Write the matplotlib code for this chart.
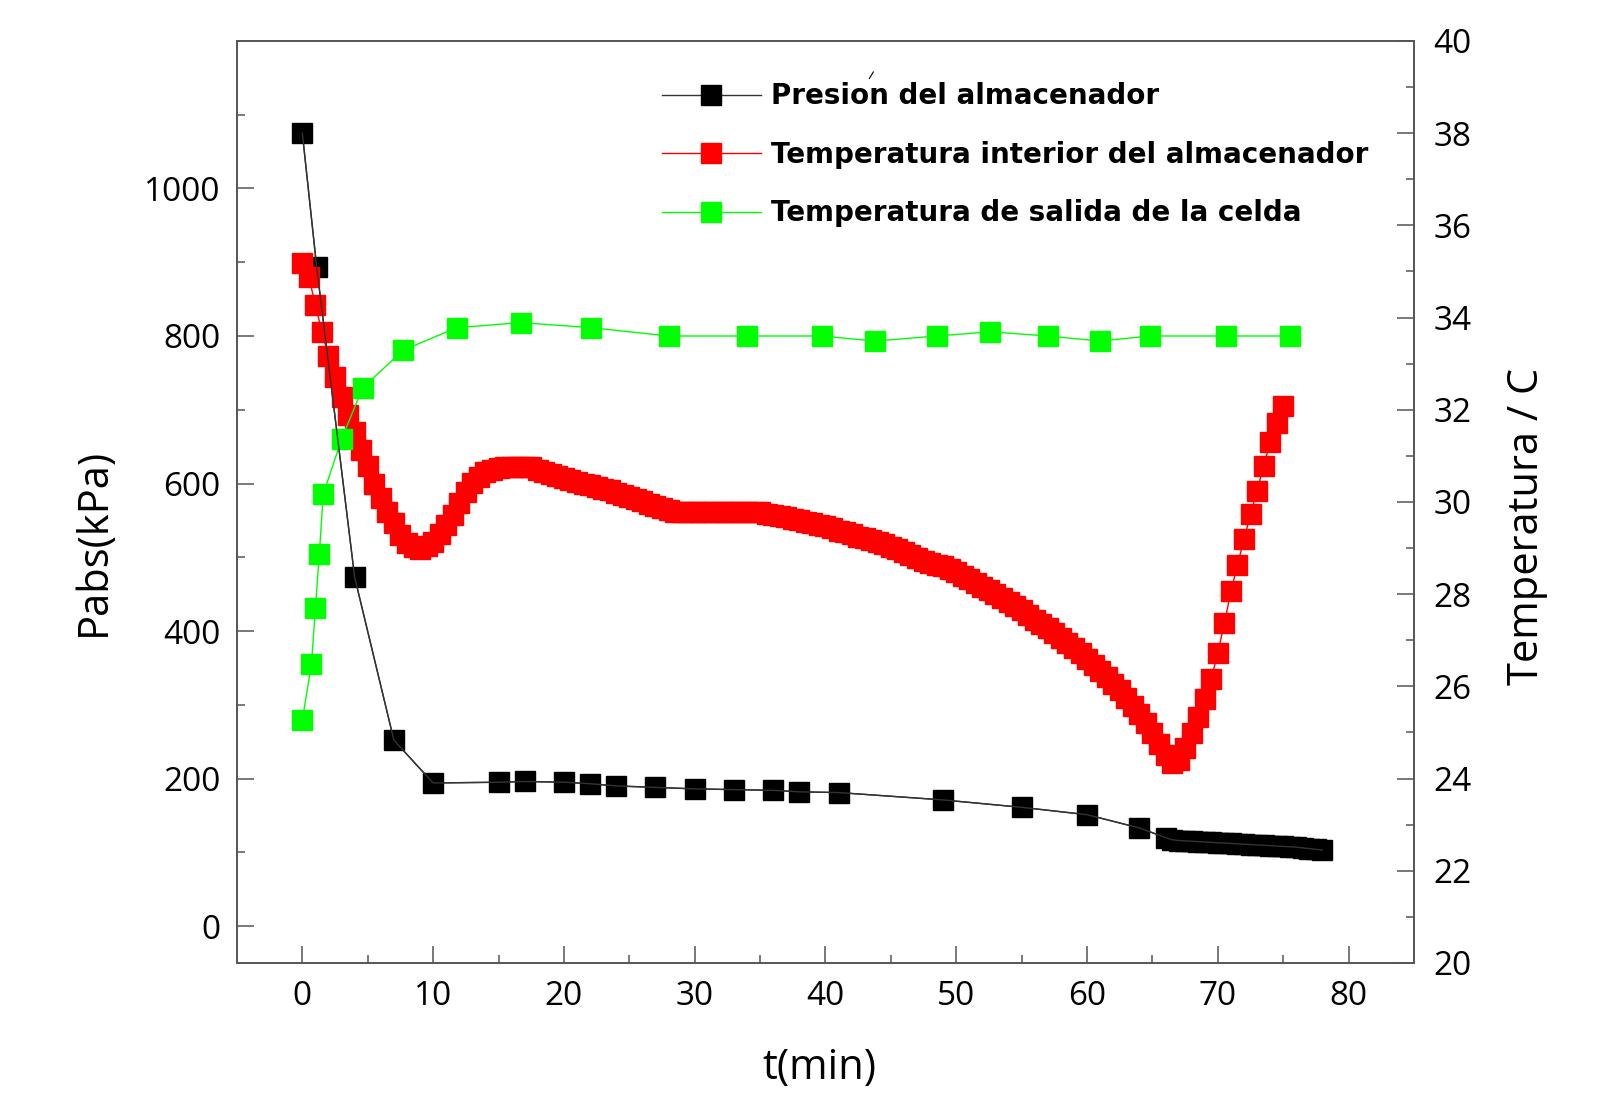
import matplotlib
matplotlib.use("Agg")
import matplotlib.pyplot as plt
from matplotlib.lines import Line2D
import numpy as np

# Presion del almacenador (kPa abs) vs t (min)
t_pres = [0, 1.1, 4.0, 7.0, 10, 15, 17, 20, 22, 24, 27, 30, 33, 36, 38, 41, 49, 55, 60, 64,
          66, 66.5, 67, 67.5, 68, 68.5, 69, 69.5, 70, 70.5, 71, 71.5, 72, 72.5, 73, 73.5,
          74, 74.5, 75, 75.5, 76, 76.5, 77, 77.5, 78]
pres = [1075, 893, 473, 252, 194, 195, 196, 195, 193, 190, 188, 186, 185, 184, 182, 181, 171, 161, 151, 133,
        120, 117, 116, 115.5, 115, 114.5, 114, 113.5, 113, 112.5, 112, 111.5, 111, 110.5, 110, 109.5,
        109, 108.5, 108, 107.5, 107, 106, 105, 104, 103]

# Temperatura interior del almacenador (C), una lectura cada 0.5 min
t_int = np.arange(0, 75.5, 0.5)
temp_int = [35.18, 34.87, 34.27, 33.68, 33.17, 32.70, 32.28, 31.88, 31.52, 31.13,
            30.77, 30.40, 30.08, 29.79, 29.54, 29.28, 29.10, 29.02, 28.99, 29.05,
            29.14, 29.30, 29.50, 29.72, 29.98, 30.22, 30.42, 30.55, 30.65, 30.70,
            30.73, 30.75, 30.76, 30.76, 30.76, 30.75, 30.70, 30.64, 30.60, 30.56,
            30.52, 30.48, 30.44, 30.40, 30.37, 30.33, 30.29, 30.25, 30.20, 30.15,
            30.10, 30.06, 30.01, 29.96, 29.91, 29.86, 29.82, 29.79, 29.78, 29.78,
            29.78, 29.78, 29.78, 29.78, 29.78, 29.78, 29.78, 29.78, 29.78, 29.78,
            29.78, 29.74, 29.72, 29.70, 29.68, 29.64, 29.60, 29.57, 29.54, 29.50,
            29.47, 29.43, 29.38, 29.34, 29.30, 29.25, 29.21, 29.17, 29.13, 29.08,
            29.03, 28.98, 28.92, 28.84, 28.78, 28.72, 28.68, 28.64, 28.60, 28.54,
            28.47, 28.40, 28.32, 28.24, 28.16, 28.08, 28.00, 27.92, 27.83, 27.74,
            27.66, 27.55, 27.45, 27.36, 27.26, 27.16, 27.05, 26.95, 26.84, 26.72,
            26.60, 26.47, 26.34, 26.20, 26.06, 25.91, 25.75, 25.58, 25.40, 25.20,
            24.98, 24.74, 24.50, 24.33, 24.40, 24.66, 24.98, 25.34, 25.72, 26.16,
            26.73, 27.37, 28.06, 28.63, 29.19, 29.73, 30.24, 30.78, 31.29, 31.71,
            32.09]

# Temperatura de salida de la celda (C)
t_sal = [0, 0.7, 1.0, 1.3, 1.6, 3.0, 4.6, 7.7, 11.8, 16.7, 22.1, 28.0, 34.0, 39.7, 43.8,
         48.5, 52.6, 57.0, 61.0, 64.8, 70.6, 75.5]
temp_sal = [25.27, 26.49, 27.69, 28.88, 30.17, 31.36, 32.47, 33.29, 33.78, 33.89, 33.78,
            33.60, 33.60, 33.60, 33.49, 33.60, 33.69, 33.60, 33.49, 33.60, 33.60, 33.60]

labels = ["Presion del almacenador",
          "Temperatura interior del almacenador",
          "Temperatura de salida de la celda"]

plt.rcParams['font.family'] = ['Open Sans', 'DejaVu Sans']

fig = plt.figure(figsize=(16.01, 10.98), dpi=100)
ax = fig.add_axes([0.148, 0.123, 0.7352, 0.8397])
ax2 = ax.twinx()

ms = 14
p1, = ax.plot(t_pres, pres, color='#333333', lw=1.0, marker='s', ms=ms,
              mfc='black', mec='black', zorder=2)
p2, = ax2.plot(t_int, temp_int, color='red', lw=1.0, marker='s', ms=ms,
               mfc='red', mec='red', zorder=3)
p3, = ax2.plot(t_sal, temp_sal, color='#00ff00', lw=1.0, marker='s', ms=ms,
               mfc='#00ff00', mec='#00ff00', zorder=4)
# linea de presion por encima de las otras series
ax2.plot(t_pres, pres, color='#333333', lw=1.0, transform=ax.transData, zorder=5)

ax.set_xlim(-5, 85)
ax.set_ylim(-50, 1200)
ax2.set_ylim(20, 40)

ax.set_xticks(np.arange(0, 81, 10))
ax.set_xticks(np.arange(5, 81, 10), minor=True)
ax.set_yticks(np.arange(0, 1001, 200))
ax.set_yticks(np.arange(100, 1101, 200), minor=True)
ax2.set_yticks(np.arange(20, 41, 2))
ax2.set_yticks(np.arange(21, 40, 2), minor=True)

spine_c = '#555555'
for a in (ax, ax2):
    for s in a.spines.values():
        s.set_color(spine_c)
        s.set_linewidth(1.2)
ax.tick_params(axis='both', which='major', direction='in', length=12, width=1.1,
               color=spine_c, labelsize=24, pad=12)
ax.tick_params(axis='both', which='minor', direction='in', length=6, width=1.1, color=spine_c)
ax2.tick_params(axis='y', which='major', direction='in', length=12, width=1.1,
                color=spine_c, labelsize=24, pad=14)
ax2.tick_params(axis='y', which='minor', direction='in', length=6, width=1.1, color=spine_c)

ax.set_xlabel('t(min)', fontsize=30)
ax.set_ylabel('Pabs(kPa)', fontsize=30)
ax2.set_ylabel('Temperatura / C', fontsize=30)
ax.xaxis.set_label_coords(0.495, -0.091)
ax.yaxis.set_label_coords(-0.104, 0.457)
ax2.yaxis.set_label_coords(1.078, 0.473)

leg = ax2.legend([p1, p2, p3], labels, loc='upper left',
                 bbox_to_anchor=(0.4135, 0.925), bbox_transform=fig.transFigure,
                 frameon=False, borderpad=0, borderaxespad=0, numpoints=1,
                 handlelength=3.55, handletextpad=0.36, labelspacing=1.1,
                 prop={'family': 'DejaVu Sans', 'weight': 'bold', 'size': 20})

# pequeno trazo suelto sobre "Presion"
fig.add_artist(Line2D([0.5430, 0.5455], [0.9285, 0.9345], transform=fig.transFigure,
                      color='black', lw=0.8))

fig.savefig('out.png', dpi=100)
